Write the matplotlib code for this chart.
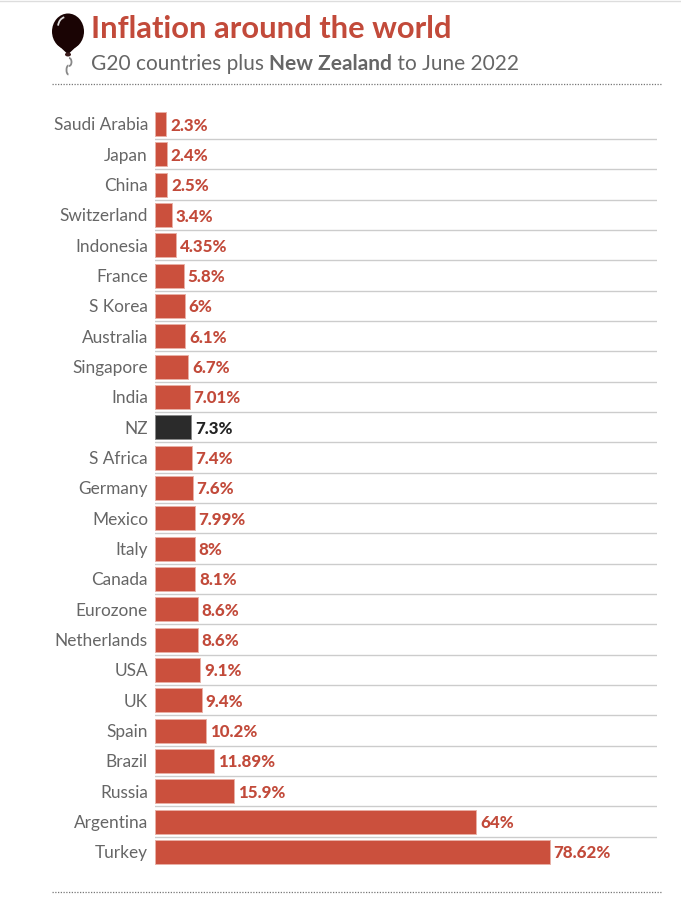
import matplotlib
matplotlib.use("Agg")
import matplotlib.pyplot as plt
from matplotlib.patches import Ellipse, Polygon, Arc

countries = ["Saudi Arabia", "Japan", "China", "Switzerland", "Indonesia", "France", "S Korea",
             "Australia", "Singapore", "India", "NZ", "S Africa", "Germany", "Mexico", "Italy",
             "Canada", "Eurozone", "Netherlands", "USA", "UK", "Spain", "Brazil", "Russia",
             "Argentina", "Turkey"]
values = [2.3, 2.4, 2.5, 3.4, 4.35, 5.8, 6, 6.1, 6.7, 7.01, 7.3, 7.4, 7.6, 7.99, 8, 8.1, 8.6, 8.6,
          9.1, 9.4, 10.2, 11.89, 15.9, 64, 78.62]
value_labels = ["2.3%", "2.4%", "2.5%", "3.4%", "4.35%", "5.8%", "6%", "6.1%", "6.7%", "7.01%",
                "7.3%", "7.4%", "7.6%", "7.99%", "8%", "8.1%", "8.6%", "8.6%", "9.1%", "9.4%",
                "10.2%", "11.89%", "15.9%", "64%", "78.62%"]

red = "#cb503d"
text_red = "#c24a3a"
grey = "#666666"
W, H = 681, 899

plt.rcParams["font.family"] = ["Lato", "DejaVu Sans"]

fig = plt.figure(figsize=(W / 100, H / 100), dpi=100)

# full figure overlay in pixel coords, for header and rules
bg = fig.add_axes([0, 0, 1, 1])
bg.set_xlim(0, W)
bg.set_ylim(H, 0)
bg.axis("off")

bg.plot([0, W], [1, 1], color="#dddddd", lw=1)
bg.plot([52, 661], [84, 84], color="#777777", lw=0.9, ls=(0, (1, 1.2)))
bg.plot([52, 661], [892, 892], color="#777777", lw=0.9, ls=(0, (1, 1.2)))

# balloon
bg.add_patch(Arc((69, 62), 5, 8, theta1=270, theta2=90, color="#888888", lw=1.3))
bg.add_patch(Arc((68.5, 70), 4, 9, theta1=90, theta2=270, color="#888888", lw=1.3))
bg.add_patch(Ellipse((68, 31.5), 32, 36, color="#1a0404", lw=0))
bg.add_patch(Polygon([[57, 44], [79, 44], [69.5, 53], [66.5, 53]], color="#1a0404", lw=0))
bg.add_patch(Ellipse((68, 54.5), 6, 4, color="#3a1a1a", lw=0))
bg.add_patch(Arc((66, 27), 16, 20, theta1=190, theta2=260, color="#dddddd", lw=1.3))

bg.text(91, 29, "Inflation around the world", color=text_red, fontsize=22.2, fontweight="bold",
        va="center", ha="left")

renderer = fig.canvas.get_renderer()
x = 91
parts = [("G20 countries plus ", "normal"), ("New Zealand", "bold"), (" to June 2022", "normal")]
for part, weight in parts:
    t = bg.text(x, 63.5, part, color=grey, fontsize=15.0, fontweight=weight, va="center", ha="left")
    # trailing spaces are not always measured, so measure with a marker
    probe = bg.text(0, 0, part.replace(" ", "\u00a0"), fontsize=15.0, fontweight=weight)
    x += probe.get_window_extent(renderer).width
    probe.remove()

# chart area, x 0-100 spans the rule width
row = 30.33
top = 124 - row / 2
left = 154.6
ax = fig.add_axes([left / W, 1 - (top + row * 25) / H, (657 - left) / W, row * 25 / H])
ax.set_xlim(0, 100)
ax.set_ylim(24.5, -0.5)
ax.patch.set_alpha(0)

colors = ["#2b2b2b" if c == "NZ" else red for c in countries]
edges = ["#8a8a8a" if c == "NZ" else "#e9b0a6" for c in countries]
ax.barh(range(len(countries)), values, height=0.79, color=colors, edgecolor=edges, linewidth=0.7)

for i in range(len(countries) - 1):
    ax.axhline(i + 0.5, color="#cccccc", lw=1, zorder=0)

for i, (v, lab) in enumerate(zip(values, value_labels)):
    ax.text(v + 0.75, i + 0.05, lab, va="center", ha="left", fontsize=12.2, fontweight="black",
            color="#222222" if countries[i] == "NZ" else text_red)

ax.set_yticks(range(len(countries)))
ax.set_yticklabels(countries, fontsize=12.4, color=grey)
ax.tick_params(axis="y", length=0, pad=4.8)
ax.set_xticks([])
for s in ax.spines.values():
    s.set_visible(False)

fig.savefig("out.png", dpi=100)
